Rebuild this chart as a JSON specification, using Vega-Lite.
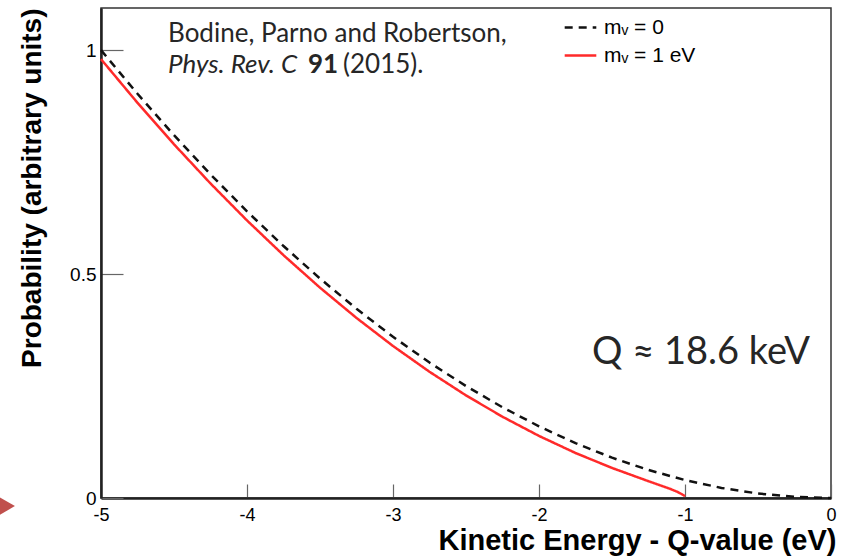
{
  "$schema": "https://vega.github.io/schema/vega-lite/v6.json",
  "autosize": {"type": "none"},
  "padding": {"left": 101, "top": 8, "right": 15, "bottom": 60},
  "width": 730,
  "height": 490,
  "background": "white",
  "config": {
    "view": {"stroke": "#333333", "strokeWidth": 1.5},
    "font": "Liberation Sans"
  },
  "datasets": {
    "curves": [
      {"E": -5, "P": 1, "series": "mᵥ = 0"},
      {"E": -4.75, "P": 0.9025, "series": "mᵥ = 0"},
      {"E": -4.5, "P": 0.81, "series": "mᵥ = 0"},
      {"E": -4.25, "P": 0.7225, "series": "mᵥ = 0"},
      {"E": -4, "P": 0.64, "series": "mᵥ = 0"},
      {"E": -3.75, "P": 0.5625, "series": "mᵥ = 0"},
      {"E": -3.5, "P": 0.49, "series": "mᵥ = 0"},
      {"E": -3.25, "P": 0.4225, "series": "mᵥ = 0"},
      {"E": -3, "P": 0.36, "series": "mᵥ = 0"},
      {"E": -2.75, "P": 0.3025, "series": "mᵥ = 0"},
      {"E": -2.5, "P": 0.25, "series": "mᵥ = 0"},
      {"E": -2.25, "P": 0.2025, "series": "mᵥ = 0"},
      {"E": -2, "P": 0.16, "series": "mᵥ = 0"},
      {"E": -1.75, "P": 0.1225, "series": "mᵥ = 0"},
      {"E": -1.5, "P": 0.09, "series": "mᵥ = 0"},
      {"E": -1.25, "P": 0.0625, "series": "mᵥ = 0"},
      {"E": -1, "P": 0.04, "series": "mᵥ = 0"},
      {"E": -0.75, "P": 0.0225, "series": "mᵥ = 0"},
      {"E": -0.5, "P": 0.01, "series": "mᵥ = 0"},
      {"E": -0.25, "P": 0.0025, "series": "mᵥ = 0"},
      {"E": 0, "P": 0, "series": "mᵥ = 0"},
      {"E": -5, "P": 0.9798, "series": "mᵥ = 1 eV"},
      {"E": -4.75, "P": 0.8823, "series": "mᵥ = 1 eV"},
      {"E": -4.5, "P": 0.7897, "series": "mᵥ = 1 eV"},
      {"E": -4.25, "P": 0.7022, "series": "mᵥ = 1 eV"},
      {"E": -4, "P": 0.6197, "series": "mᵥ = 1 eV"},
      {"E": -3.75, "P": 0.5421, "series": "mᵥ = 1 eV"},
      {"E": -3.5, "P": 0.4696, "series": "mᵥ = 1 eV"},
      {"E": -3.25, "P": 0.402, "series": "mᵥ = 1 eV"},
      {"E": -3, "P": 0.3394, "series": "mᵥ = 1 eV"},
      {"E": -2.75, "P": 0.2818, "series": "mᵥ = 1 eV"},
      {"E": -2.5, "P": 0.2291, "series": "mᵥ = 1 eV"},
      {"E": -2.25, "P": 0.1814, "series": "mᵥ = 1 eV"},
      {"E": -2, "P": 0.1386, "series": "mᵥ = 1 eV"},
      {"E": -1.75, "P": 0.1005, "series": "mᵥ = 1 eV"},
      {"E": -1.5, "P": 0.0671, "series": "mᵥ = 1 eV"},
      {"E": -1.25, "P": 0.0375, "series": "mᵥ = 1 eV"},
      {"E": -1.1, "P": 0.0202, "series": "mᵥ = 1 eV"},
      {"E": -1.05, "P": 0.0134, "series": "mᵥ = 1 eV"},
      {"E": -1.02, "P": 0.0082, "series": "mᵥ = 1 eV"},
      {"E": -1, "P": 0.004, "series": "mᵥ = 1 eV"}
    ]
  },
  "layer": [
    {
      "data": {"name": "curves"},
      "mark": {"type": "line", "strokeWidth": 2.5, "clip": false},
      "encoding": {
        "x": {
          "field": "E", "type": "quantitative",
          "scale": {"domain": [-5, 0], "nice": false, "zero": false},
          "axis": {
            "title": "Kinetic Energy - Q-value (eV)",
            "titleFontSize": 29, "titleFontWeight": "bold", "titleColor": "black",
            "titleAnchor": "end", "titleAlign": "right", "titleX": 735, "titlePadding": 2,
            "values": [-5, -4, -3, -2, -1, 0],
            "labelExpr": "toString(datum.value)",
            "labelFontSize": 18, "labelColor": "black", "labelPadding": 22,
            "tickSize": -14, "tickColor": "#666666", "tickWidth": 1.2,
            "domainColor": "#222222", "domainWidth": 2.5,
            "grid": false, "labelFlush": false
          }
        },
        "y": {
          "field": "P", "type": "quantitative",
          "scale": {"domain": [0, 1.094], "nice": false},
          "axis": {
            "title": "Probability (arbitrary units)",
            "titleFontSize": 28, "titleFontWeight": "bold", "titleColor": "black",
            "titleAnchor": "end", "titlePadding": 23,
            "values": [0, 0.5, 1],
            "labelExpr": "toString(datum.value)",
            "labelFontSize": 19, "labelColor": "black", "labelPadding": 27,
            "tickSize": -22, "tickColor": "#666666", "tickWidth": 1.2,
            "domainColor": "#222222", "domainWidth": 2.5,
            "grid": false
          }
        },
        "color": {
          "field": "series", "type": "nominal",
          "scale": {"domain": ["mᵥ = 0", "mᵥ = 1 eV"], "range": ["#111111", "#ff2a2a"]},
          "legend": {
            "title": null, "orient": "none", "legendX": 462, "legendY": 2,
            "symbolType": "stroke", "symbolSize": 1000, "symbolStrokeWidth": 2.5,
            "labelFontSize": 21, "labelColor": "black", "labelOffset": 6,
            "rowPadding": 0
          }
        },
        "strokeDash": {
          "field": "series", "type": "nominal",
          "scale": {"domain": ["mᵥ = 0", "mᵥ = 1 eV"], "range": [[8, 6], [1, 0]]},
          "legend": {
            "title": null, "orient": "none", "legendX": 462, "legendY": 2,
            "symbolType": "stroke", "symbolSize": 1000, "symbolStrokeWidth": 2.5,
            "labelFontSize": 21, "labelColor": "black", "labelOffset": 6,
            "rowPadding": 0
          }
        }
      }
    },
    {
      "data": {"values": [{"x": -4.541, "y": 1.018, "text": "Bodine, Parno and Robertson,"}]},
      "mark": {"type": "text", "align": "left", "baseline": "alphabetic", "font": "Lato", "fontSize": 26, "color": "#262626"},
      "encoding": {
        "x": {"field": "x", "type": "quantitative"},
        "y": {"field": "y", "type": "quantitative"},
        "text": {"field": "text"}
      }
    },
    {
      "data": {"values": [{"x": -4.541, "y": 0.949, "text": "Phys. Rev. C"}]},
      "mark": {"type": "text", "align": "left", "baseline": "alphabetic", "font": "Lato", "fontSize": 26, "fontStyle": "italic", "color": "#262626"},
      "encoding": {
        "x": {"field": "x", "type": "quantitative"},
        "y": {"field": "y", "type": "quantitative"},
        "text": {"field": "text"}
      }
    },
    {
      "data": {"values": [{"x": -3.582, "y": 0.949, "text": "91"}]},
      "mark": {"type": "text", "align": "left", "baseline": "alphabetic", "font": "Lato", "fontSize": 26, "fontWeight": "bold", "color": "#262626"},
      "encoding": {
        "x": {"field": "x", "type": "quantitative"},
        "y": {"field": "y", "type": "quantitative"},
        "text": {"field": "text"}
      }
    },
    {
      "data": {"values": [{"x": -3.342, "y": 0.949, "text": "(2015)."}]},
      "mark": {"type": "text", "align": "left", "baseline": "alphabetic", "font": "Lato", "fontSize": 26, "color": "#262626"},
      "encoding": {
        "x": {"field": "x", "type": "quantitative"},
        "y": {"field": "y", "type": "quantitative"},
        "text": {"field": "text"}
      }
    },
    {
      "data": {"values": [{"x": -1.637, "y": 0.3, "text": "Q ≈ 18.6 keV"}]},
      "mark": {"type": "text", "align": "left", "baseline": "alphabetic", "font": "Lato", "fontSize": 38, "color": "#262626"},
      "encoding": {
        "x": {"field": "x", "type": "quantitative"},
        "y": {"field": "y", "type": "quantitative"},
        "text": {"field": "text"}
      }
    },
    {
      "data": {"values": [{"x": -5.726, "y": -0.018}]},
      "mark": {"type": "point", "shape": "triangle-right", "filled": true, "size": 2116, "color": "#c0504d", "opacity": 1, "clip": false},
      "encoding": {
        "x": {"field": "x", "type": "quantitative"},
        "y": {"field": "y", "type": "quantitative"}
      }
    }
  ]
}
